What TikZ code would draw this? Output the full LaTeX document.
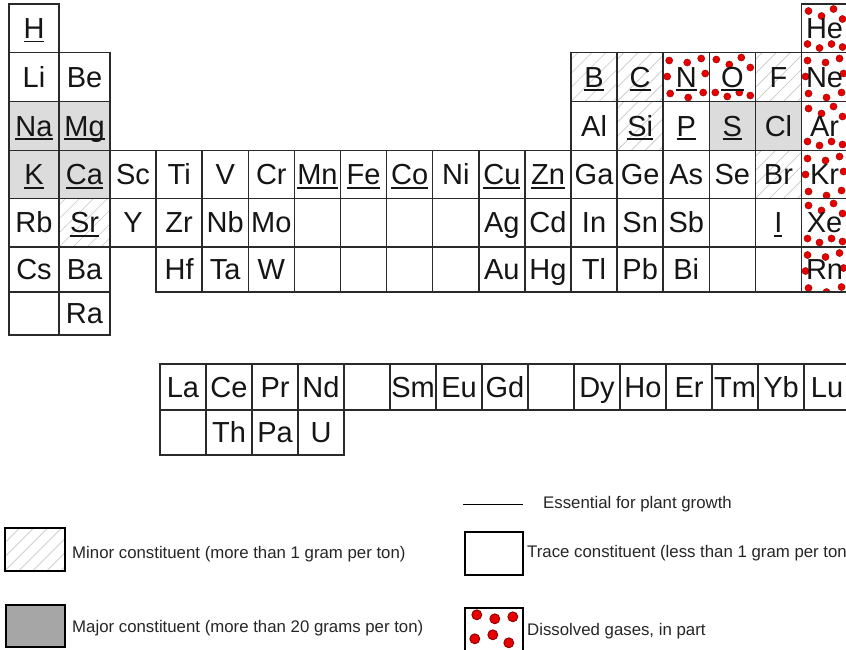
\documentclass[tikz,border=0pt]{standalone}
\usepackage{fontspec}
\setmainfont{Liberation Sans}
\newcommand\ul[1]{\setbox0=\hbox{#1}\rlap{\rule[-0.14em]{\wd0}{0.06em}}\box0}
\definecolor{cellgray}{HTML}{DCDCDC}
\definecolor{majgray}{HTML}{A6A6A6}
\definecolor{hatchgray}{HTML}{C8C8C8}
\definecolor{dotred}{HTML}{E60000}
\definecolor{dotedge}{HTML}{800000}
\definecolor{linecol}{HTML}{2A2A2A}
\definecolor{txtcol}{HTML}{151515}
\tikzset{
  cellbox/.style={draw=linecol, line width=1.5pt, inner sep=0pt, text height=27pt, text depth=7pt,
    font=\fontsize{29}{31}\selectfont, text=txtcol, anchor=center},
  major/.style={fill=cellgray},
  minor/.style={path picture={\foreach \k in {-70,-56,...,60}
      \draw[hatchgray, line width=0.6pt] ([xshift=\k pt]path picture bounding box.south west) -- ++(80pt,80pt);}},
  gasA/.style={path picture={\foreach \a/\b in {7/7,20/12,32/5,41/15,6/40,18/44,30/40,41/43}
      \filldraw[fill=dotred, draw=dotedge, line width=0.3pt] ([shift={(\a pt,-\b pt)}]path picture bounding box.north west) circle (3.6pt);}},
  gasB/.style={path picture={\foreach \a/\b in {6/8,24/10,38/6,4/24,42/21,7/41,25/45,40/40}
      \filldraw[fill=dotred, draw=dotedge, line width=0.3pt] ([shift={(\a pt,-\b pt)}]path picture bounding box.north west) circle (3.6pt);}},
  legbox/.style={draw=black, line width=1.6pt, inner sep=0pt, anchor=north west},
  legtxt/.style={anchor=west, inner sep=0pt, font=\fontsize{16.8}{18}\selectfont, text=black!85},
  essline/.style={draw=black, line width=1pt},
}
% periodic table cell: name, column, row, text, style
\newcommand\pc[5]{%
  \pgfmathsetmacro\cx{#2==1 ? 9 : (#2==2 ? 59 : 110+(#2-3)*46.1)}%
  \pgfmathsetmacro\cw{#2==1 ? 50 : (#2==2 ? 51 : 46.1)}%
  \pgfmathsetmacro\ry{{4,52.5,101.5,150.5,198.5,247,292,335}[#3-1]}%
  \pgfmathsetmacro\rb{{4,52.5,101.5,150.5,198.5,247,292,335}[#3]}%
  \pgfmathsetmacro\rh{\rb-\ry}%
  \node[cellbox, minimum width=\cw pt, minimum height=\rh pt, #5] (#1) at ({\cx+\cw/2},{\ry+\rh/2}) {#4};%
}
% lanthanide / actinide cell: name, column, row, text
\newcommand\lc[4]{%
  \pgfmathsetmacro\cx{160+(#2-1)*46}%
  \pgfmathsetmacro\ry{#3==1 ? 364 : 410}%
  \pgfmathsetmacro\rh{#3==1 ? 46 : 45}%
  \node[cellbox, minimum width=46pt, minimum height=\rh pt] (#1) at ({\cx+23},{\ry+\rh/2}) {#4};%
}
\begin{document}
\begin{tikzpicture}[x=1pt,y=-1pt]
\useasboundingbox (0,0) rectangle (846,649);
\clip (0,0) rectangle (846,649);
\fill[white] (0,0) rectangle (846,649);
% row 1
\pc{H}{1}{1}{\ul{H}}{}
\pc{He}{18}{1}{He}{gasA}
% row 2
\pc{Li}{1}{2}{Li}{}
\pc{Be}{2}{2}{Be}{}
\pc{B}{13}{2}{\ul{B}}{minor}
\pc{C}{14}{2}{\ul{C}}{minor}
\pc{N}{15}{2}{\ul{N}}{gasB}
\pc{O}{16}{2}{\ul{O}}{gasA}
\pc{F}{17}{2}{F}{minor}
\pc{Ne}{18}{2}{Ne}{gasB}
% row 3
\pc{Na}{1}{3}{\ul{Na}}{major}
\pc{Mg}{2}{3}{\ul{Mg}}{major}
\pc{Al}{13}{3}{Al}{}
\pc{Si}{14}{3}{\ul{Si}}{minor}
\pc{P}{15}{3}{\ul{P}}{}
\pc{S}{16}{3}{\ul{S}}{major}
\pc{Cl}{17}{3}{Cl}{major}
\pc{Ar}{18}{3}{Ar}{gasA}
% row 4
\pc{K}{1}{4}{\ul{K}}{major}
\pc{Ca}{2}{4}{\ul{Ca}}{major}
\pc{Sc}{3}{4}{Sc}{}
\pc{Ti}{4}{4}{Ti}{}
\pc{V}{5}{4}{V}{}
\pc{Cr}{6}{4}{Cr}{}
\pc{Mn}{7}{4}{\ul{Mn}}{}
\pc{Fe}{8}{4}{\ul{Fe}}{}
\pc{Co}{9}{4}{\ul{Co}}{}
\pc{Ni}{10}{4}{Ni}{}
\pc{Cu}{11}{4}{\ul{Cu}}{}
\pc{Zn}{12}{4}{\ul{Zn}}{}
\pc{Ga}{13}{4}{Ga}{}
\pc{Ge}{14}{4}{Ge}{}
\pc{As}{15}{4}{As}{}
\pc{Se}{16}{4}{Se}{}
\pc{Br}{17}{4}{Br}{minor}
\pc{Kr}{18}{4}{Kr}{gasB}
% row 5
\pc{Rb}{1}{5}{Rb}{}
\pc{Sr}{2}{5}{\ul{Sr}}{minor}
\pc{Y}{3}{5}{Y}{}
\pc{Zr}{4}{5}{Zr}{}
\pc{Nb}{5}{5}{Nb}{}
\pc{Mo}{6}{5}{Mo}{}
\pc{Tc}{7}{5}{}{}
\pc{Ru}{8}{5}{}{}
\pc{Rh}{9}{5}{}{}
\pc{Pd}{10}{5}{}{}
\pc{Ag}{11}{5}{Ag}{}
\pc{Cd}{12}{5}{Cd}{}
\pc{In}{13}{5}{In}{}
\pc{Sn}{14}{5}{Sn}{}
\pc{Sb}{15}{5}{Sb}{}
\pc{Te}{16}{5}{}{}
\pc{I}{17}{5}{\ul{I}}{}
\pc{Xe}{18}{5}{Xe}{gasA}
% row 6
\pc{Cs}{1}{6}{Cs}{}
\pc{Ba}{2}{6}{Ba}{}
\pc{Hf}{4}{6}{Hf}{}
\pc{Ta}{5}{6}{Ta}{}
\pc{W}{6}{6}{W}{}
\pc{Re}{7}{6}{}{}
\pc{Os}{8}{6}{}{}
\pc{Ir}{9}{6}{}{}
\pc{Pt}{10}{6}{}{}
\pc{Au}{11}{6}{Au}{}
\pc{Hg}{12}{6}{Hg}{}
\pc{Tl}{13}{6}{Tl}{}
\pc{Pb}{14}{6}{Pb}{}
\pc{Bi}{15}{6}{Bi}{}
\pc{Po}{16}{6}{}{}
\pc{At}{17}{6}{}{}
\pc{Rn}{18}{6}{Rn}{gasB}
% row 7
\pc{Fr}{1}{7}{}{}
\pc{Ra}{2}{7}{Ra}{}
% lanthanides
\lc{La}{1}{1}{La}
\lc{Ce}{2}{1}{Ce}
\lc{Pr}{3}{1}{Pr}
\lc{Nd}{4}{1}{Nd}
\lc{Pm}{5}{1}{}
\lc{Sm}{6}{1}{Sm}
\lc{Eu}{7}{1}{Eu}
\lc{Gd}{8}{1}{Gd}
\lc{Tb}{9}{1}{}
\lc{Dy}{10}{1}{Dy}
\lc{Ho}{11}{1}{Ho}
\lc{Er}{12}{1}{Er}
\lc{Tm}{13}{1}{Tm}
\lc{Yb}{14}{1}{Yb}
\lc{Lu}{15}{1}{Lu}
% actinides
\lc{Ac}{1}{2}{}
\lc{Th}{2}{2}{Th}
\lc{Pa}{3}{2}{Pa}
\lc{U}{4}{2}{U}
% legend
\coordinate (essA) at (463,504);
\coordinate (essB) at (523,504);
\draw[essline] (essA) -- (essB);
\node[legtxt] (esstxt) at (543,504) {Essential for plant growth};
\node[legbox, minor, minimum width=60pt, minimum height=43pt] (legminor) at (4,527) {};
\node[legtxt] (minortxt) at (72,554) {Minor constituent (more than 1 gram per ton)};
\node[legbox, fill=majgray, minimum width=59pt, minimum height=42pt] (legmajor) at (5,604) {};
\node[legtxt] (majortxt) at (72,628) {Major constituent (more than 20 grams per ton)};
\node[legbox, minimum width=58pt, minimum height=43pt] (legtrace) at (464,531) {};
\node[legtxt] (tracetxt) at (527,553) {Trace constituent (less than 1 gram per ton)};
\node[legbox, minimum width=58pt, minimum height=50pt,
  path picture={\foreach \a/\b in {12/7,30/11,48/9,10/31,28/27,44/35}
    \filldraw[fill=dotred, draw=dotedge, line width=0.8pt] ([shift={(\a pt,-\b pt)}]path picture bounding box.north west) circle (5pt);}] (leggas) at (464,607) {};
\node[legtxt] (gastxt) at (527,631) {Dissolved gases, in part};
\end{tikzpicture}
\end{document}
